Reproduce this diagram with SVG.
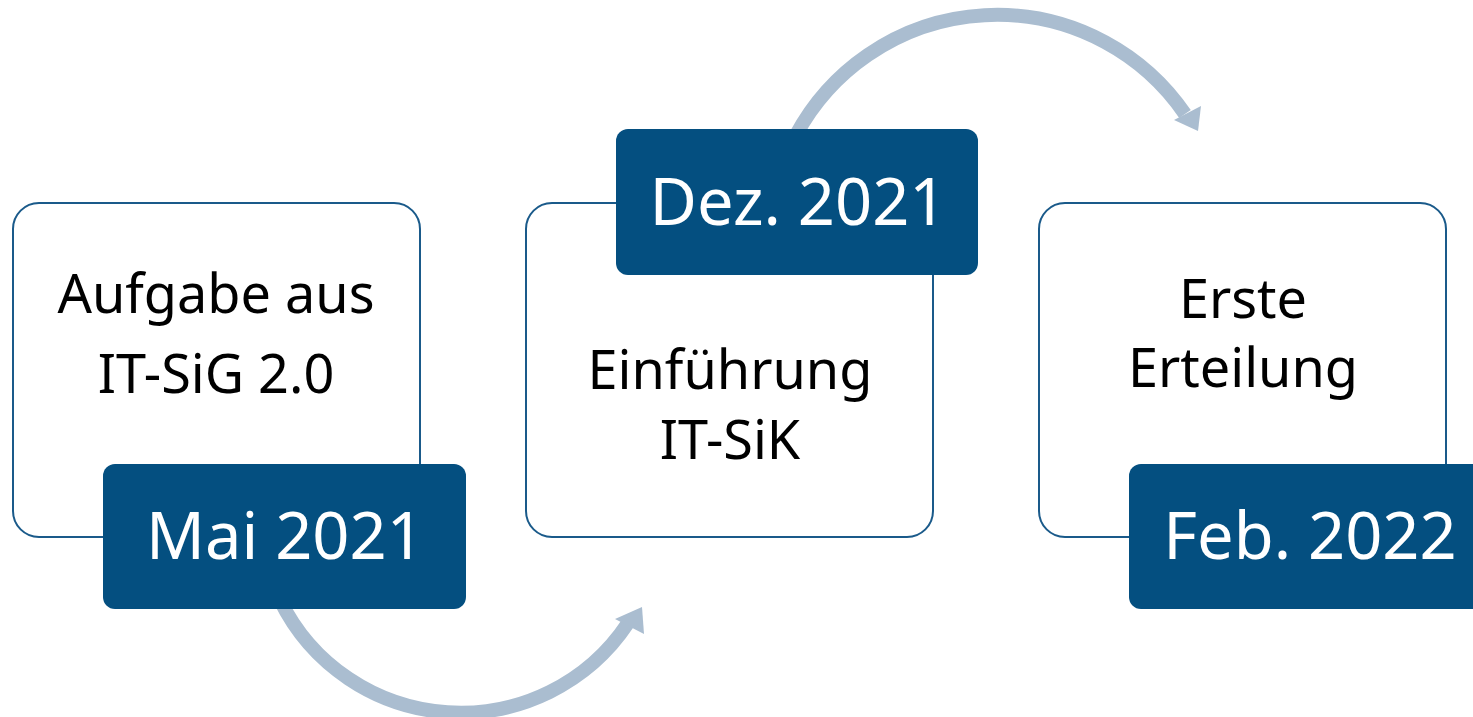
<svg xmlns="http://www.w3.org/2000/svg" width="1473" height="717" viewBox="0 0 1473 717">
<style>
.box{fill:#fff;stroke:#1a5a8a;stroke-width:2}
.lab{fill:#044f80}
.arc{fill:none;stroke:#aabdd0;stroke-width:14}
.head{fill:#aabdd0}
.t{font-family:"Noto Sans","Open Sans",sans-serif;font-size:54px;fill:#000;text-anchor:middle}
.w{font-family:"Noto Sans","Open Sans",sans-serif;font-size:65px;fill:#fff;text-anchor:middle}
</style>
<rect width="1473" height="717" fill="#fff"/>
<g id="connectors">
<path class="arc" d="M 280 600 A 201 201 0 0 0 628 623"/>
<polygon class="head" points="642,607 615,619 644,634"/>
<path class="arc" d="M 796 135 A 228 228 0 0 1 1185 114"/>
<polygon class="head" points="1198,131 1174,120 1201,106"/>
</g>
<g id="node1">
<rect class="box" x="13" y="203" width="407" height="334" rx="26"/>
<text class="t" x="216" y="313">Aufgabe aus</text>
<text class="t" x="216" y="393">IT-SiG 2.0</text>
<rect class="lab" x="103" y="464" width="363" height="145" rx="12"/>
<text class="w" x="285" y="559">Mai 2021</text>
</g>
<g id="node2">
<rect class="box" x="526" y="203" width="407" height="334" rx="26"/>
<text class="t" x="730" y="389">Einführung</text>
<text class="t" x="730" y="459">IT-SiK</text>
<rect class="lab" x="616" y="129" width="362" height="146" rx="12"/>
<text class="w" x="798" y="225">Dez. 2021</text>
</g>
<g id="node3">
<rect class="box" x="1039" y="203" width="407" height="334" rx="26"/>
<text class="t" x="1243" y="318">Erste</text>
<text class="t" x="1243" y="387">Erteilung</text>
<rect class="lab" x="1129" y="464" width="363" height="145" rx="12"/>
<text class="w" x="1310" y="559">Feb. 2022</text>
</g>
</svg>
